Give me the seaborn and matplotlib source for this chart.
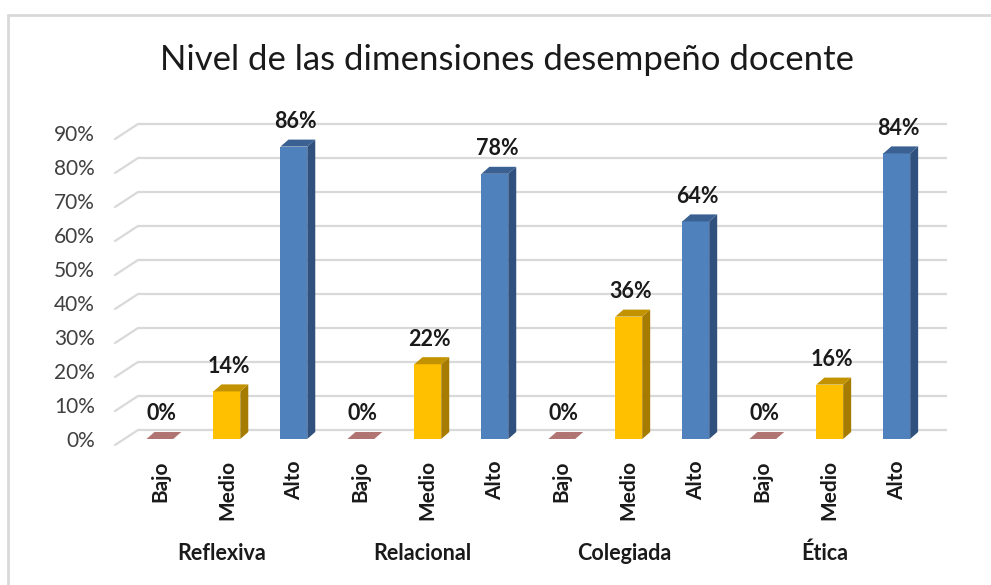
import numpy as np
import pandas as pd
import seaborn as sns
import matplotlib.pyplot as plt
from matplotlib.patches import Polygon
from matplotlib.lines import Line2D
from matplotlib.transforms import ScaledTranslation, blended_transform_factory

dimensiones = ["Reflexiva", "Relacional", "Colegiada", "Ética"]
niveles = ["Bajo", "Medio", "Alto"]
bajo = [0, 0, 0, 0]
medio = [14, 22, 36, 16]
alto = [86, 78, 64, 84]
yticks = [0, 10, 20, 30, 40, 50, 60, 70, 80, 90]

rows = []
for i, d in enumerate(dimensiones):
    for n, vals in zip(niveles, [bajo, medio, alto]):
        rows.append({"key": f"{d}-{n}", "Dimensión": d, "Nivel": n, "Valor": vals[i]})
df = pd.DataFrame(rows)

front = {"Bajo": "#B07572", "Medio": "#FFC000", "Alto": "#4F81BD"}
side = {"Bajo": "#8C5653", "Medio": "#A67C00", "Alto": "#30507D"}
top = {"Bajo": "#B07572", "Medio": "#C29200", "Alto": "#3B6092"}

sns.set_theme(style="white")
plt.rcParams["font.family"] = ["Lato", "DejaVu Sans"]

W, H = 991, 585
fig = plt.figure(figsize=(W / 100, H / 100), dpi=100)
ax_l, ax_r, ax_t, ax_b = 113, 947, 116, 447.5
ax = fig.add_axes([ax_l / W, 1 - ax_b / H, (ax_r - ax_l) / W, (ax_b - ax_t) / H])

sns.barplot(data=df, x="key", y="Valor", hue="Nivel", palette=front,
            dodge=False, width=0.4, legend=False, ax=ax, saturation=1,
            order=list(df["key"]))
ax.set_xlim(-0.7, 11.75)
ax.set_ylim(-2.5, 95)

# pixel -> data conversions
px_x = (11.75 + 0.7) / (ax_r - ax_l)
px_y = 97.5 / (ax_b - ax_t)
dx, dy = 8 * px_x, 7 * px_y

# gridlines (back wall) with slanted floor part
for v in yticks:
    ax.plot([-0.7 + 25 * px_x, 11.75], [v + 9 * px_y] * 2, color="#D9D9D9",
            lw=1.6, zorder=0, solid_capstyle="butt")
    ax.plot([-0.7 + 2 * px_x, -0.7 + 25 * px_x], [v - 6 * px_y, v + 9 * px_y],
            color="#D9D9D9", lw=1.6, zorder=0)

# 3D faces for each bar
for patch in list(ax.patches):
    x0, w, h = patch.get_x(), patch.get_width(), patch.get_height()
    r = df.iloc[int(round(x0 + w / 2))]
    n = r["Nivel"]
    patch.set_edgecolor("none")
    patch.set_zorder(3)
    ax.add_patch(Polygon([(x0 + w, 0), (x0 + w + dx, dy), (x0 + w + dx, h + dy), (x0 + w, h)],
                         closed=True, facecolor=side[n], edgecolor="none", zorder=3))
    ax.add_patch(Polygon([(x0, h), (x0 + dx, h + dy), (x0 + w + dx, h + dy), (x0 + w, h)],
                         closed=True, facecolor=top[n], edgecolor="none", zorder=3))
    ax.annotate(f"{r['Valor']}%", (x0 + w / 2 + 2 * px_x, h), xytext=(0, 18),
                textcoords="offset points", ha="center", va="center",
                fontsize=15.5, fontweight="bold", color="#1A1A1A", annotation_clip=False)

ax.set_yticks(yticks)
ax.set_yticklabels([f"{v}%" for v in yticks], fontsize=15, color="#404040")
off = ScaledTranslation(0, -0.06, fig.dpi_scale_trans)
for lab in ax.get_yticklabels():
    lab.set_transform(lab.get_transform() + off)
ax.tick_params(axis="y", length=0, pad=13)

ax.set_xticks(range(len(df)))
ax.set_xticklabels(df["Nivel"], rotation=90, fontsize=15, fontweight="bold", color="#1A1A1A")
ax.tick_params(axis="x", length=0, pad=9)
ax.set_xlabel("")
ax.set_ylabel("")
for s in ax.spines.values():
    s.set_visible(False)
ax.grid(False)

trans = blended_transform_factory(ax.transData, fig.transFigure)
for i, d in enumerate(dimensiones):
    ax.text(3 * i + 1 - 5 * px_x, 1 - 553 / H, d, transform=trans, ha="center", va="center",
            fontsize=15.5, fontweight="bold", color="#1A1A1A")

fig.text(507 / W, 1 - 60 / H, "Nivel de las dimensiones desempeño docente",
         ha="center", va="center", fontsize=25, color="#1A1A1A")

# chart frame
fig.add_artist(Line2D([8 / W, 1], [1 - 15 / H] * 2, transform=fig.transFigure,
                      color="#D9D9D9", lw=2))
fig.add_artist(Line2D([8 / W] * 2, [0, 1 - 15 / H], transform=fig.transFigure,
                      color="#D9D9D9", lw=2))

fig.savefig("out.png", dpi=100, facecolor="white")
